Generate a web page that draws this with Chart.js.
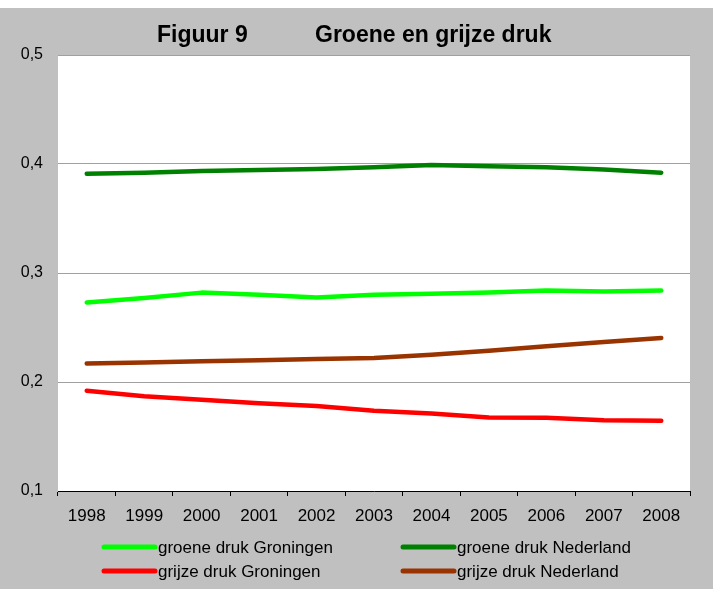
<!DOCTYPE html>
<html>
<head>
<meta charset="utf-8">
<script src="https://cdn.jsdelivr.net/npm/chart.js@4"></script>
<style>
    html, body { margin: 0; padding: 0; background: #fff; }
    #wrap { width: 713px; height: 589px; position: relative; }
    #druk { background: linear-gradient(#fff 0 8px, #c0c0c0 8px); }
</style>
</head>
<body>
<div id="wrap"><canvas id="druk" width="713" height="589"></canvas></div>
<script>
const years = ['1998', '1999', '2000', '2001', '2002', '2003', '2004', '2005', '2006', '2007', '2008'];
const groeneGroningen = [0.273, 0.277, 0.282, 0.280, 0.2775, 0.280, 0.281, 0.282, 0.284, 0.283, 0.284];
const groeneNederland = [0.391, 0.392, 0.3935, 0.3945, 0.3955, 0.397, 0.399, 0.398, 0.397, 0.395, 0.392];
const grijzeGroningen = [0.192, 0.187, 0.1837, 0.1806, 0.178, 0.1736, 0.171, 0.1674, 0.1671, 0.165, 0.1645];
const grijzeNederland = [0.217, 0.218, 0.219, 0.220, 0.221, 0.222, 0.225, 0.2287, 0.2327, 0.2367, 0.2404];
const yTicks = [0.1, 0.2, 0.3, 0.4, 0.5];

const FONT = '"Liberation Sans", Arial, sans-serif';

function series(label, data, color) {
    return {
        label: label,
        data: data,
        borderColor: color,
        backgroundColor: color,
        borderWidth: 4.5,
        borderCapStyle: 'round',
        borderJoinStyle: 'round',
        pointRadius: 0,
        pointHoverRadius: 0,
        tension: 0,
        fill: false
    };
}

// white plot area, title and a 2x2 legend like the Excel original
const excelLook = {
    id: 'excelLook',
    beforeDraw(chart) {
        const { ctx, chartArea: a } = chart;
        ctx.save();
        ctx.fillStyle = '#fff';
        ctx.fillRect(a.left, a.top, a.right - a.left, a.bottom - a.top);
        ctx.restore();
    },
    afterDraw(chart) {
        const ctx = chart.ctx;
        ctx.save();
        ctx.fillStyle = '#000';
        ctx.textBaseline = 'alphabetic';
        ctx.textAlign = 'left';
        ctx.font = 'bold 23px ' + FONT;
        ctx.fillText('Figuur 9', 157, 42);
        ctx.fillText('Groene en grijze druk', 315, 42);

        ctx.font = '17px ' + FONT;
        ctx.textBaseline = 'middle';
        const cols = [102, 401];
        const rows = [547, 571];
        chart.data.datasets.forEach((ds, i) => {
            const x = cols[i % 2];
            const y = rows[Math.floor(i / 2)];
            ctx.strokeStyle = ds.borderColor;
            ctx.lineWidth = 5;
            ctx.lineCap = 'round';
            ctx.beginPath();
            ctx.moveTo(x + 2, y);
            ctx.lineTo(x + 53, y);
            ctx.stroke();
            ctx.fillText(ds.label, x + 56, y + 1);
        });
        ctx.restore();
    }
};

new Chart(document.getElementById('druk'), {
    type: 'line',
    data: {
        labels: years,
        datasets: [
            series('groene druk Groningen', groeneGroningen, '#00ff00'),
            series('groene druk Nederland', groeneNederland, '#008000'),
            series('grijze druk Groningen', grijzeGroningen, '#ff0000'),
            series('grijze druk Nederland', grijzeNederland, '#993300')
        ]
    },
    options: {
        responsive: false,
        animation: false,
        events: [],
        layout: { padding: { top: 55, right: 23, bottom: 0, left: 0 } },
        plugins: {
            legend: { display: false },
            title: { display: false },
            tooltip: { enabled: false }
        },
        scales: {
            x: {
                offset: true,
                afterFit: s => { s.height = 98; },
                grid: { offset: true, drawOnChartArea: false, color: '#000', tickLength: 5 },
                border: { color: '#000', width: 1 },
                ticks: { color: '#000', font: { family: FONT, size: 17 }, padding: 10, maxRotation: 0 }
            },
            y: {
                min: yTicks[0],
                max: yTicks[yTicks.length - 1],
                afterFit: s => { s.width = 58; },
                afterBuildTicks: s => { s.ticks = yTicks.map(v => ({ value: v })); },
                grid: { color: '#a0a0a0', lineWidth: 1, drawTicks: false },
                border: { display: false },
                ticks: {
                    color: '#000',
                    font: { family: FONT, size: 16 },
                    padding: 15,
                    callback: v => v.toFixed(1).replace('.', ',')
                }
            }
        }
    },
    plugins: [excelLook]
});
</script>
</body>
</html>
